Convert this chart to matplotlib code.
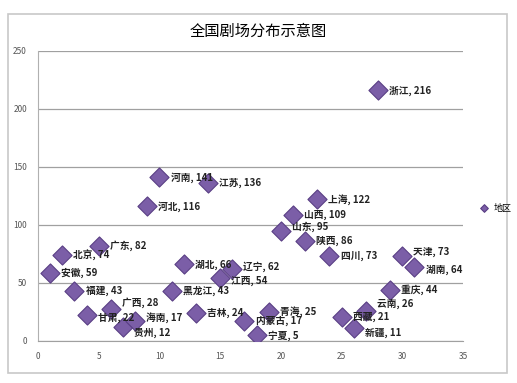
import matplotlib.pyplot as plt
from matplotlib.patches import Rectangle

plt.rcParams['font.family'] = ['Noto Sans CJK SC', 'DejaVu Sans']

regions = ['安徽', '北京', '福建', '甘肃', '广东', '广西', '贵州', '海南', '河北', '河南',
           '黑龙江', '湖北', '吉林', '江苏', '江西', '辽宁', '内蒙古', '宁夏', '青海', '山东',
           '山西', '陕西', '上海', '四川', '西藏', '新疆', '云南', '浙江', '重庆', '天津', '湖南']
index = list(range(1, 32))
theatres = [59, 74, 43, 22, 82, 28, 12, 17, 116, 141,
            43, 66, 24, 136, 54, 62, 17, 5, 25, 95,
            109, 86, 122, 73, 21, 11, 26, 216, 44, 73, 64]

# small vertical nudges for crowded labels (points)
nudge = {'甘肃': -2, '广西': 4, '贵州': -4, '海南': 3, '云南': 5, '新疆': -3, '山东': 3,
         '江西': -2, '辽宁': 2, '天津': 3, '湖南': -2}

fig = plt.figure(figsize=(5.17, 3.83), dpi=100)
fig.patches.append(Rectangle((8/517, 1 - 373/383), 499/517, 359/383, transform=fig.transFigure,
                             fill=False, edgecolor='#c8c8c8', linewidth=1.2))
ax = fig.add_axes([38/517, 1 - 341/383, 425/517, 290/383])

ax.scatter(index, theatres, marker='D', s=95, color='#7b5ea7', edgecolors='#5a3f85',
           linewidths=0.8, zorder=3, label='地区')
for x, y, name in zip(index, theatres, regions):
    ax.annotate(f'{name}, {y}', (x, y), xytext=(8, nudge.get(name, 0)), textcoords='offset points',
                va='center', ha='left', fontsize=7, fontweight='bold', color='#222222', zorder=4)

ax.set_xlim(0, 35)
ax.set_ylim(0, 250)
ax.set_xticks(range(0, 36, 5))
ax.set_yticks(range(0, 251, 50))
ax.yaxis.grid(True, color='#a0a0a0', linewidth=0.9)
ax.set_axisbelow(True)
for side in ['top', 'right']:
    ax.spines[side].set_visible(False)
ax.spines['left'].set_color('#b0b0b0')
ax.spines['bottom'].set_color('#a0a0a0')
ax.tick_params(length=0, labelsize=6, labelcolor='#555555', pad=8)

fig.text(258/517, 1 - 31/383, '全国剧场分布示意图', ha='center', va='center', fontsize=11)
fig.legend(loc='center left', bbox_to_anchor=(470/517, 1 - 208/383), frameon=False,
           fontsize=6.5, markerscale=0.4, handletextpad=0.1, borderpad=0)

fig.savefig('out.png', dpi=100)
